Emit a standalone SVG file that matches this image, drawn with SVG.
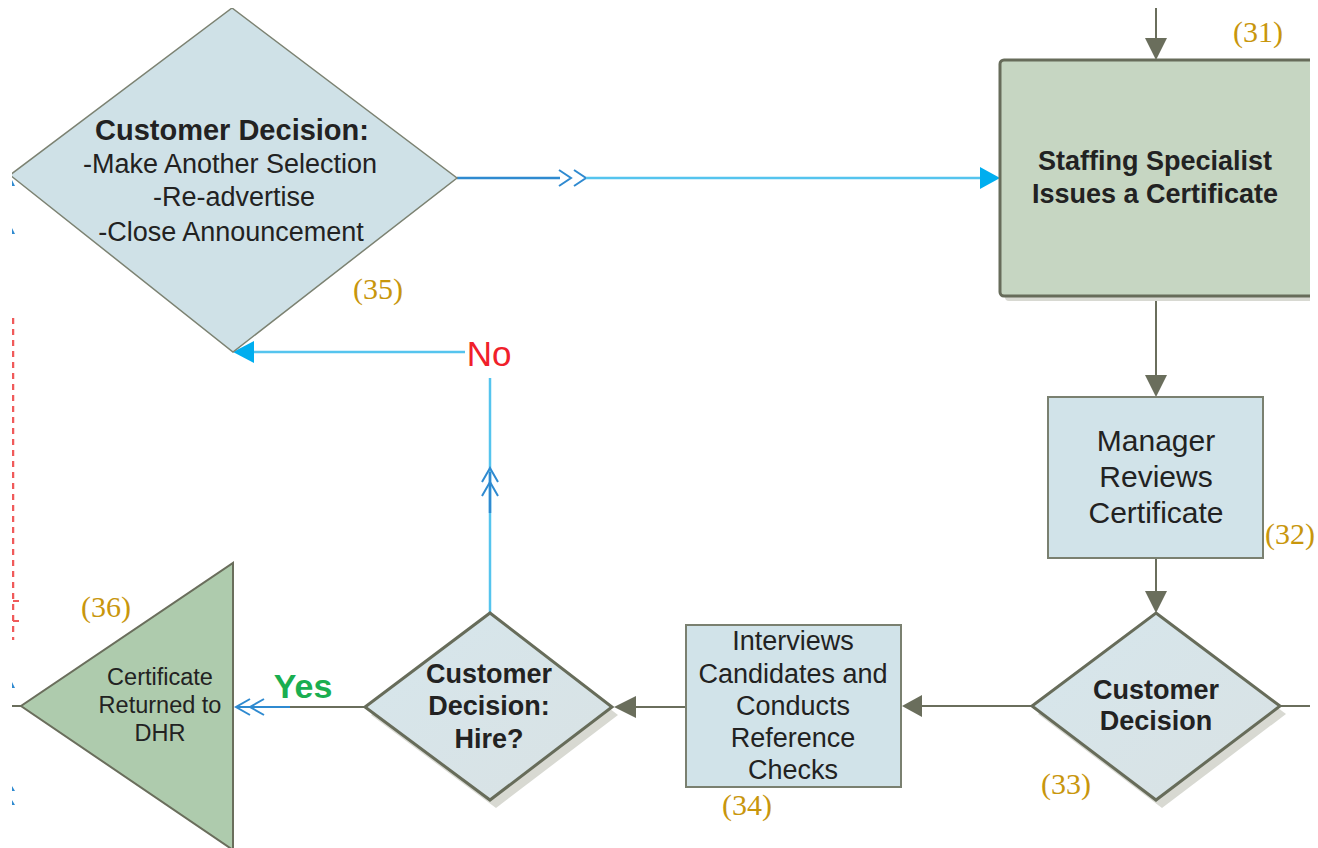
<svg xmlns="http://www.w3.org/2000/svg" width="1318" height="848" viewBox="0 0 1318 848">
<defs>
<style>
.t{font-family:"Liberation Sans",Arial,sans-serif;fill:#222;text-anchor:middle}
.b{font-weight:bold}
.num{font-family:"Liberation Serif","Times New Roman",serif;fill:#c8960c;font-size:30px;text-anchor:middle}
.gl{stroke:#6a6e5c;stroke-width:2;fill:none}
.bl{stroke:#55c4ee;stroke-width:2.5;fill:none}
.db{stroke:#2f8ad0;stroke-width:2.5;fill:none}
.ch{stroke:#2f8ad0;stroke-width:2;fill:none}
.node{stroke:#676c5a;stroke-width:3}
</style>
<linearGradient id="dg" x1="0" y1="0" x2="1" y2="1">
<stop offset="0" stop-color="#d6e6ec"/><stop offset="1" stop-color="#d9e2e4"/>
</linearGradient>
<clipPath id="c"><rect x="12" y="8" width="1298" height="840"/></clipPath>
</defs>
<rect width="1318" height="848" fill="#fff"/>
<g clip-path="url(#c)">
<g id="edge-artifacts">
<line x1="13" y1="318" x2="13" y2="640" stroke="#f05a5a" stroke-width="2.5" stroke-dasharray="6,5"/>
<line x1="13" y1="601" x2="19" y2="601" stroke="#f05a5a" stroke-width="2"/>
<line x1="13" y1="621" x2="19" y2="621" stroke="#f05a5a" stroke-width="2"/>
<path d="M12,180 l3,6 h-3z M12,228 l3,6 h-3z M12,682 l3,6 h-3z M12,786 l3,5 h-3z M12,800 l3,5 h-3z" fill="#2f8ad0"/>
<line x1="12" y1="706" x2="22" y2="706" class="gl"/>
</g>
<g id="connectors">
<line x1="1156" y1="8" x2="1156" y2="40" class="gl"/>
<path d="M1145,38 L1167,38 L1156,60 Z" fill="#6a6e5c"/>
<line x1="1156" y1="296" x2="1156" y2="377" class="gl"/>
<path d="M1145,375 L1167,375 L1156,397 Z" fill="#6a6e5c"/>
<line x1="1156" y1="558" x2="1156" y2="593" class="gl"/>
<path d="M1145,591 L1167,591 L1156,613 Z" fill="#6a6e5c"/>
<line x1="1280" y1="706" x2="1315" y2="706" class="gl"/>
<line x1="1032" y1="706" x2="920" y2="706" class="gl"/>
<path d="M922,695 L922,717 L902,706 Z" fill="#6a6e5c"/>
<line x1="686" y1="707" x2="632" y2="707" class="gl"/>
<path d="M636,696 L636,718 L614,707 Z" fill="#6a6e5c"/>
<line x1="365" y1="707" x2="290" y2="707" class="gl"/>
<line x1="290" y1="707" x2="236" y2="707" stroke="#2f8ad0" stroke-width="2"/>
<path d="M250,699 L236,707 L250,715 M264,699 L250,707 L264,715" class="ch"/>
<line x1="490" y1="613" x2="490" y2="378" class="bl"/>
<line x1="490" y1="513" x2="490" y2="472" stroke="#2f8ad0" stroke-width="2.5"/>
<path d="M482,482 L490,468 L498,482 M482,496 L490,482 L498,496" class="ch"/>
<line x1="465" y1="352" x2="252" y2="352" class="bl"/>
<path d="M254,341 L254,363 L233,352 Z" fill="#00aeef"/>
<line x1="457" y1="178" x2="560" y2="178" class="db"/>
<path d="M559,170 L571,178 L559,186 M574,170 L586,178 L574,186" class="ch"/>
<line x1="586" y1="178" x2="982" y2="178" class="bl"/>
<path d="M980,167 L980,189 L1000,178 Z" fill="#00aeef"/>
<text x="489" y="366" class="t" style="fill:#f0202a;font-size:35px">No</text>
<text x="303" y="698" class="t b" style="fill:#1aae50;font-size:34px">Yes</text>
</g>
<g id="n35">
<path d="M232,8 L457,178 L233,352 L10,175 Z" fill="#cfe1e7" stroke="#7c8272" stroke-width="1.5"/>
<text x="232" y="140" class="t b" style="font-size:29px">Customer Decision:</text>
<text x="230" y="173" class="t" style="font-size:27px">-Make Another Selection</text>
<text x="234" y="206" class="t" style="font-size:27px">-Re-advertise</text>
<text x="231" y="241" class="t" style="font-size:27px">-Close Announcement</text>
</g>
<g id="n31">
<rect x="1005" y="65" width="320" height="236" rx="4" fill="#d8d9d2"/>
<rect x="1000" y="60" width="320" height="236" rx="4" fill="#c6d6c2" class="node"/>
<text x="1155" y="170" class="t b" style="font-size:27px">Staffing Specialist</text>
<text x="1155" y="203" class="t b" style="font-size:27px">Issues a Certificate</text>
</g>
<g id="n32">
<rect x="1048" y="397" width="215" height="161" fill="#d1e3e9" stroke="#7a8070" stroke-width="2"/>
<text x="1156" y="451" class="t" style="font-size:30px">Manager</text>
<text x="1156" y="487" class="t" style="font-size:30px">Reviews</text>
<text x="1156" y="523" class="t" style="font-size:30px">Certificate</text>
</g>
<g id="n33">
<path d="M1162,621 L1286,714 L1162,808 L1038,714 Z" fill="#d8d9d2"/>
<path d="M1156,613 L1280,706 L1156,800 L1032,706 Z" fill="url(#dg)" class="node"/>
<text x="1156" y="699" class="t b" style="font-size:27px">Customer</text>
<text x="1156" y="730" class="t b" style="font-size:27px">Decision</text>
</g>
<g id="n34">
<rect x="686" y="625" width="215" height="162" fill="#d1e3e9" stroke="#7a8070" stroke-width="2"/>
<text x="793" y="650" class="t" style="font-size:27px">Interviews</text>
<text x="793" y="683" class="t" style="font-size:27px">Candidates and</text>
<text x="793" y="715" class="t" style="font-size:27px">Conducts</text>
<text x="793" y="747" class="t" style="font-size:27px">Reference</text>
<text x="793" y="779" class="t" style="font-size:27px">Checks</text>
</g>
<g id="n_hire">
<path d="M496,621 L618,715 L496,808 L371,715 Z" fill="#d8d9d2"/>
<path d="M490,613 L612,707 L490,800 L365,707 Z" fill="url(#dg)" class="node"/>
<text x="489" y="683" class="t b" style="font-size:27px">Customer</text>
<text x="489" y="715" class="t b" style="font-size:27px">Decision:</text>
<text x="489" y="748" class="t b" style="font-size:27px">Hire?</text>
</g>
<g id="n36">
<path d="M233,563 L233,850 L21,706 Z" fill="#aecbad" stroke="#6a6e5c" stroke-width="2"/>
<text x="160" y="685" class="t" style="font-size:23.5px">Certificate</text>
<text x="160" y="713" class="t" style="font-size:23.5px">Returned to</text>
<text x="160" y="741" class="t" style="font-size:23.5px">DHR</text>
</g>
</g>
<g id="step-numbers">
<text x="378" y="299" class="num">(35)</text>
<text x="1258" y="42" class="num">(31)</text>
<text x="1290" y="544" class="num">(32)</text>
<text x="1066" y="794" class="num">(33)</text>
<text x="747" y="815" class="num">(34)</text>
<text x="106" y="617" class="num">(36)</text>
</g>
</svg>
